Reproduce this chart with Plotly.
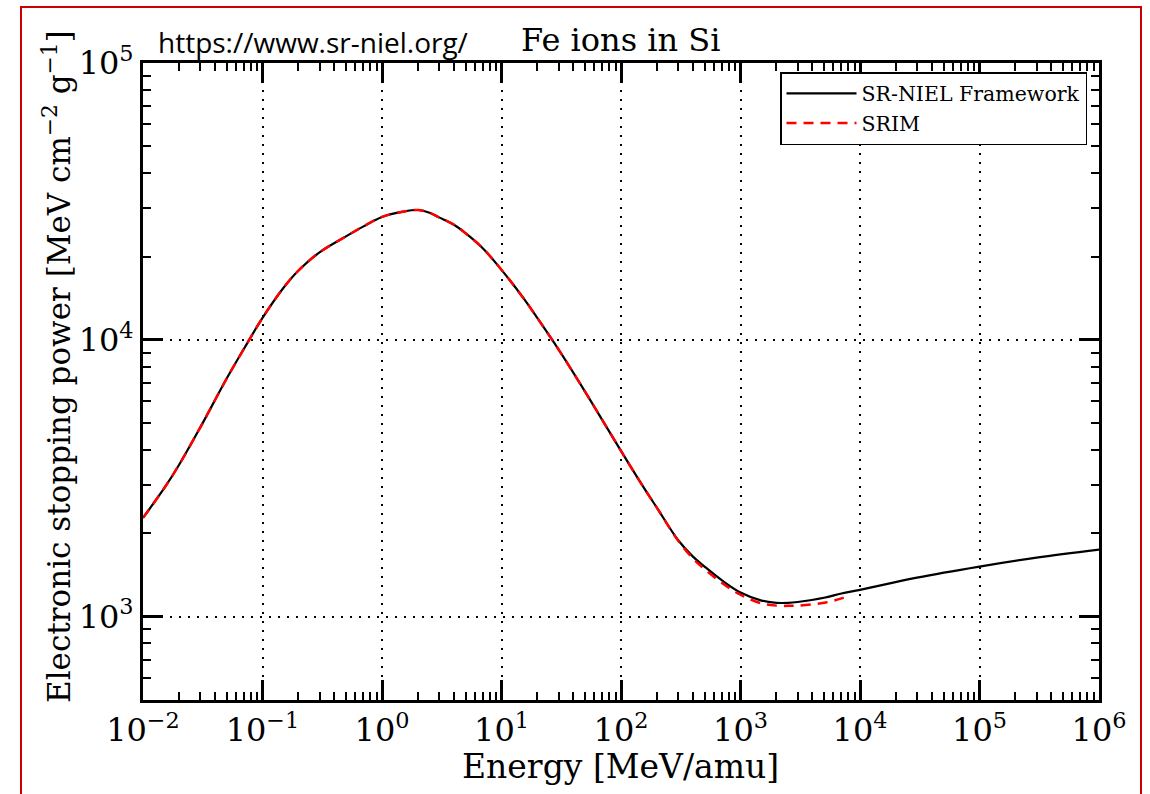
import math
import plotly.graph_objects as go

# ---- data ----
energy_fw = [0.01, 0.015, 0.02, 0.03, 0.05, 0.07, 0.1, 0.15, 0.2, 0.3,
             0.5, 0.7, 1.0, 1.5, 2.0, 2.5, 3.0, 4.0, 5.0, 7.0, 10.0,
             15, 20, 30, 50, 70, 100, 150, 200, 300, 400,
             500, 700, 1000, 1500, 2000, 2500, 3000, 5000, 7000, 10000,
             30000, 100000, 300000, 1000000]
stopping_fw = [2275, 2904, 3530, 4808, 7230, 9290, 12000, 15420, 17800, 20700,
               23650, 25700, 27800, 29040, 29440, 28770, 27690, 26040, 24270, 21380, 17900,
               14290, 11970, 9230, 6500, 5120, 3970, 2992, 2472, 1892, 1648,
               1517, 1352, 1222, 1143, 1122, 1122, 1130, 1170, 1213, 1250,
               1384, 1517, 1633, 1746]

energy_srim = [0.01, 0.015, 0.02, 0.03, 0.05, 0.07, 0.1, 0.15, 0.2, 0.3,
               0.5, 0.7, 1.0, 1.5, 2.0, 2.5, 3.0, 4.0, 5.0, 7.0, 10.0,
               15, 20, 30, 50, 70, 100, 150, 200, 300, 400,
               500, 700, 1000, 1500, 2000, 2500, 3000, 5000, 7000, 7700]
stopping_srim = [2275, 2904, 3530, 4808, 7230, 9290, 12000, 15420, 17800, 20700,
                 23650, 25700, 27800, 29040, 29440, 28770, 27690, 26040, 24270, 21380, 17900,
                 14290, 11970, 9230, 6500, 5120, 3970, 2992, 2472, 1885, 1622,
                 1485, 1324, 1200, 1117, 1096, 1094, 1096, 1122, 1164, 1183]

x_major = [1e-2, 1e-1, 1e0, 1e1, 1e2, 1e3, 1e4, 1e5, 1e6]
x_labels = ["10<sup>−2</sup>", "10<sup>−1</sup>", "10<sup>0</sup>", "10<sup>1</sup>",
            "10<sup>2</sup>", "10<sup>3</sup>", "10<sup>4</sup>", "10<sup>5</sup>", "10<sup>6</sup>"]
y_major = [1e3, 1e4, 1e5]
y_labels = ["10<sup>3</sup>", "10<sup>4</sup>", "10<sup>5</sup>"]

x_minor = [k * 10.0 ** n for n in range(-2, 6) for k in range(2, 10)]
y_minor = [k * 10.0 ** n for n in range(2, 5) for k in range(2, 10)]

SERIF = "DejaVu Serif"

fig = go.Figure()
fig.add_trace(go.Scatter(x=energy_fw, y=stopping_fw, mode="lines", name="SR-NIEL Framework",
                         line=dict(color="black", width=2.2, shape="spline", smoothing=1.0)))
fig.add_trace(go.Scatter(x=energy_srim, y=stopping_srim, mode="lines", name="SRIM",
                         line=dict(color="#ff0000", width=2.5, dash="10px,7px",
                                   shape="spline", smoothing=1.0)))

axis_common = dict(
    type="log", showline=True, linewidth=3, linecolor="black", mirror="allticks",
    ticks="inside", ticklen=20, tickwidth=3, tickcolor="black",
    showgrid=True, gridcolor="black", gridwidth=1.8, griddash="2px,7px",
    zeroline=False, tickfont=dict(family=SERIF, size=32, color="black"),
)

fig.update_xaxes(range=[-2, 6], tickmode="array", tickvals=x_major, ticktext=x_labels,
                 minor=dict(ticks="inside", ticklen=8, tickwidth=2, tickcolor="black",
                            tickvals=x_minor, showgrid=False),
                 **axis_common)
fig.update_yaxes(range=[math.log10(500), 5], tickmode="array", tickvals=y_major, ticktext=y_labels,
                 minor=dict(ticks="inside", ticklen=8, tickwidth=2, tickcolor="black",
                            tickvals=y_minor, showgrid=False),
                 **axis_common)

L, R, T, B = 143, 51, 63, 94
W, H = 1150, 794
pw, ph = W - L - R, H - T - B

def px(xp):
    return (xp - L) / pw

def py(yp):
    return 1 - (yp - T) / ph

fig.update_layout(
    width=W, height=H, autosize=False,
    margin=dict(l=L, r=R, t=T, b=B),
    paper_bgcolor="white", plot_bgcolor="white",
    showlegend=True,
    legend=dict(x=px(1087), xanchor="right", y=py(72), yanchor="top",
                bgcolor="white", bordercolor="black", borderwidth=1.5,
                itemwidth=70,
                font=dict(family=SERIF, size=20.5, color="black")),
    annotations=[
        dict(text="https://www.sr-niel.org/", xref="paper", yref="paper",
             x=px(313), y=py(42), showarrow=False, xanchor="center", yanchor="middle",
             font=dict(family="Open Sans", size=28, color="black")),
        dict(text="Fe ions in Si", xref="paper", yref="paper",
             x=px(620), y=py(40), showarrow=False, xanchor="center", yanchor="middle",
             font=dict(family=SERIF, size=32, color="black")),
        dict(text="Energy [MeV/amu]", xref="paper", yref="paper",
             x=px(620), y=py(766), showarrow=False, xanchor="center", yanchor="middle",
             font=dict(family=SERIF, size=33, color="black")),
        dict(text="Electronic stopping power [MeV cm<sup>−2</sup> g<sup>−1</sup>]",
             xref="paper", yref="paper", x=px(57), y=py(367), showarrow=False,
             textangle=-90, xanchor="center", yanchor="middle",
             font=dict(family=SERIF, size=31, color="black")),
    ],
    shapes=[dict(type="rect", xref="paper", yref="paper",
                 x0=px(21), x1=px(1141), y0=py(820), y1=py(7),
                 line=dict(color="#cc0000", width=2), fillcolor="rgba(0,0,0,0)", layer="above")],
)

fig.write_html("out.html")
